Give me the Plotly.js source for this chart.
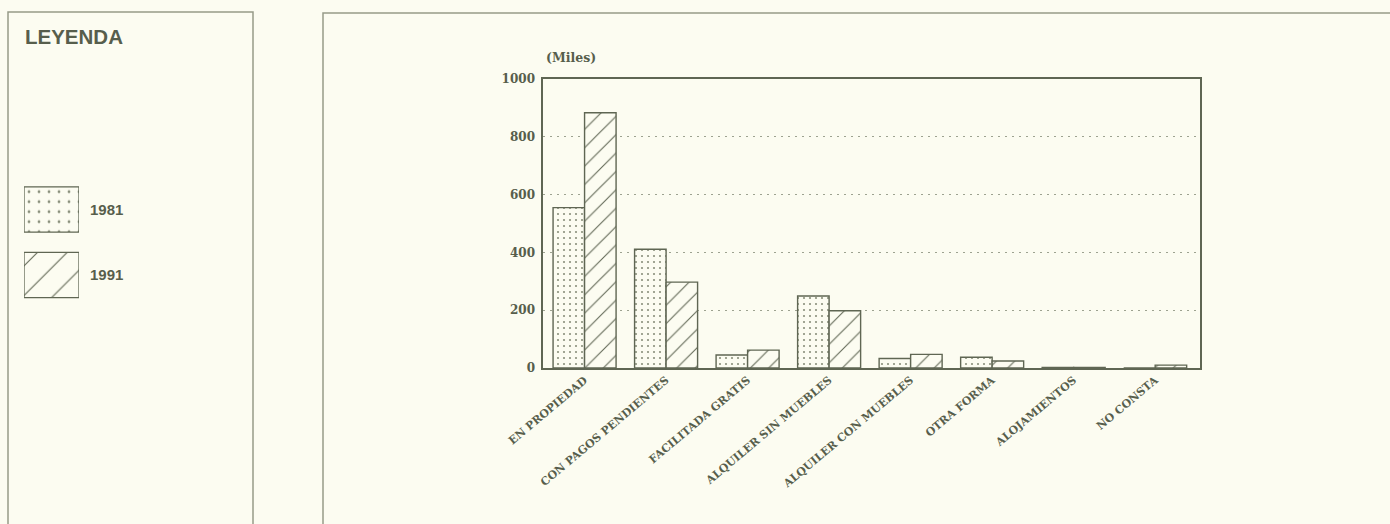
<!DOCTYPE html>
<html>
<head>
<meta charset="utf-8">
<script src="https://cdn.plot.ly/plotly-3.0.1.min.js"></script>
<style>
  html, body { margin: 0; padding: 0; background: #fcfcf1; }
  #chart { width: 1390px; height: 524px; }
</style>
</head>
<body>
<div id="chart"></div>
<script>
// ---- Data ----
const categories = [
  "EN PROPIEDAD",
  "CON PAGOS PENDIENTES",
  "FACILITADA GRATIS",
  "ALQUILER SIN MUEBLES",
  "ALQUILER CON MUEBLES",
  "OTRA FORMA",
  "ALOJAMIENTOS",
  "NO CONSTA"
];
const values1981 = [555, 411, 45, 249, 33, 37, 2, 0];
const values1991 = [883, 297, 62, 198, 47, 24, 2, 10];
const seriesNames = ["1981", "1991"];
const yTicks = [0, 200, 400, 600, 800, 1000];
const unitLabel = "(Miles)";
const legendTitle = "LEYENDA";

// ---- Styling ----
const W = 1390, H = 524;
const px = x => x / W;
const py = y => 1 - y / H;
const bg = "#fcfcf1";
const ink = "#575e4c";
const lineCol = "#5f6653";
const patCol = "#8a907c";
const panelCol = "#969b88";
const serif = "DejaVu Serif, Liberation Serif, serif";
const sans = "Liberation Sans, Arial, sans-serif";

const patterns = {
  "1981": { shape: ".", size: 6, solidity: 0.1 },
  "1991": { shape: "/", size: 13, solidity: 0.08 }
};

function barTrace(name, vals) {
  return {
    type: "bar",
    name: name,
    x: categories,
    y: vals,
    xaxis: "x",
    yaxis: "y",
    marker: {
      color: bg,
      line: { color: lineCol, width: 1.4 },
      pattern: Object.assign({ fgcolor: name === "1981" ? patCol : lineCol, bgcolor: bg, fillmode: "replace" }, patterns[name])
    },
    hoverinfo: "x+y"
  };
}

const traces = [
  barTrace(seriesNames[0], values1981),
  barTrace(seriesNames[1], values1991),
  {
    type: "bar",
    orientation: "h",
    y: seriesNames,
    x: seriesNames.map(() => 1),
    width: 0.69,
    xaxis: "x2",
    yaxis: "y2",
    showlegend: false,
    hoverinfo: "skip",
    marker: {
      color: bg,
      line: { color: lineCol, width: 1.3 },
      pattern: {
        shape: seriesNames.map(n => patterns[n].shape),
        size: [10, 21],
        solidity: [0.06, 0.05],
        fgcolor: [patCol, lineCol],
        bgcolor: bg,
        fillmode: "replace"
      }
    }
  }
];

const layout = {
  width: W,
  height: H,
  margin: { l: 0, r: 0, t: 0, b: 0 },
  paper_bgcolor: bg,
  plot_bgcolor: bg,
  showlegend: false,
  barmode: "group",
  bargap: 0.227,
  bargroupgap: 0,
  xaxis: {
    domain: [px(543), px(1200)],
    anchor: "y",
    type: "category",
    range: [-0.51, 7.55],
    tickangle: -40,
    tickfont: { family: serif, size: 11, color: ink, weight: "bold" },
    showline: true,
    mirror: true,
    linecolor: lineCol,
    linewidth: 1.6,
    showgrid: false,
    ticks: "",
    zeroline: false
  },
  yaxis: {
    domain: [py(368), py(79)],
    anchor: "x",
    range: [0, 1000],
    tickvals: yTicks,
    ticktext: yTicks.map(String),
    tickfont: { family: serif, size: 12, color: ink, weight: "bold" },
    showline: true,
    mirror: true,
    linecolor: lineCol,
    linewidth: 1.6,
    showgrid: true,
    gridcolor: "#9da290",
    griddash: "2px,5px",
    gridwidth: 1.3,
    zeroline: false,
    ticks: "",
    ticklabelstandoff: 4
  },
  xaxis2: {
    domain: [px(24), px(79)],
    anchor: "y2",
    range: [0, 1],
    visible: false,
    fixedrange: true
  },
  yaxis2: {
    domain: [py(307.75), py(176.75)],
    anchor: "x2",
    type: "category",
    range: [1.5, -0.5],
    side: "right",
    showline: false,
    showgrid: false,
    zeroline: false,
    ticks: "",
    ticklabelstandoff: 10,
    tickfont: { family: sans, size: 15, color: ink, weight: "bold" },
    fixedrange: true
  },
  shapes: [
    {
      type: "rect", xref: "paper", yref: "paper",
      x0: px(8), x1: px(253), y0: py(540), y1: py(12),
      line: { color: panelCol, width: 1.5 }, fillcolor: "rgba(0,0,0,0)", layer: "below"
    },
    {
      type: "path", xref: "paper", yref: "paper",
      path: "M " + px(323) + " " + py(540) + " L " + px(323) + " " + py(13) + " L " + px(1395) + " " + py(13),
      line: { color: panelCol, width: 1.5 }, layer: "below"
    }
  ],
  annotations: [
    {
      xref: "paper", yref: "paper",
      x: px(23), y: py(37), xanchor: "left", yanchor: "middle",
      text: legendTitle, showarrow: false,
      font: { family: sans, size: 20.5, color: ink, weight: "bold" }
    },
    {
      xref: "paper", yref: "paper",
      x: px(544), y: py(57), xanchor: "left", yanchor: "middle",
      text: unitLabel, showarrow: false,
      font: { family: serif, size: 12.5, color: ink, weight: "bold" }
    }
  ]
};

Plotly.newPlot("chart", traces, layout, { staticPlot: true, displayModeBar: false });
</script>
</body>
</html>
